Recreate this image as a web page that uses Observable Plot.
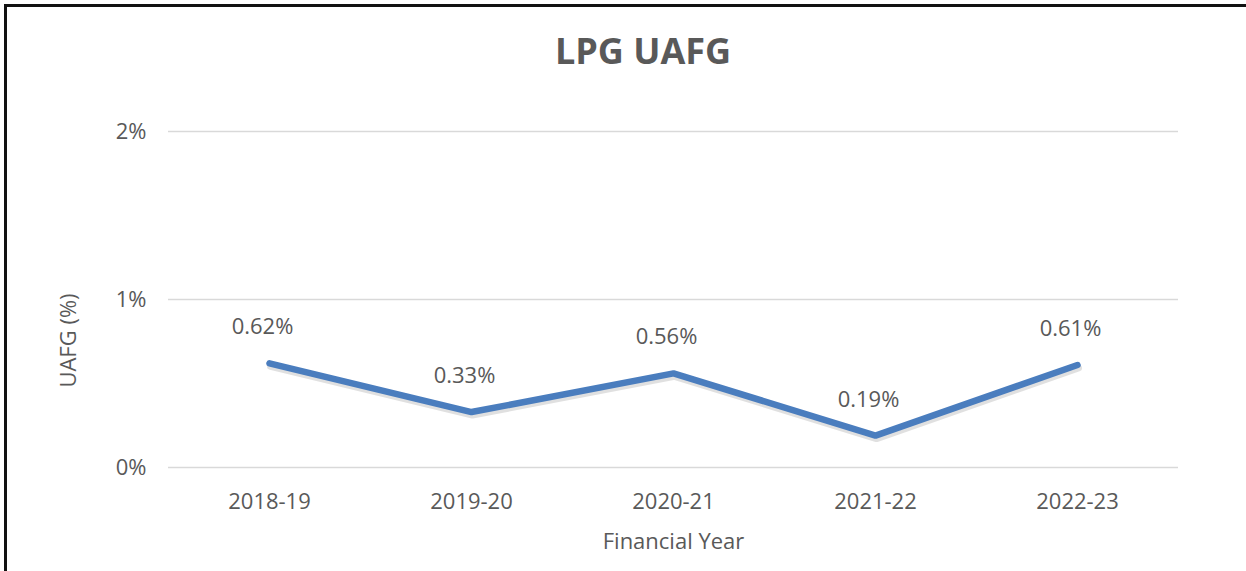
<!DOCTYPE html>
<html>
<head>
<meta charset="utf-8">
<script src="https://cdn.jsdelivr.net/npm/d3@7"></script>
<script src="https://cdn.jsdelivr.net/npm/@observablehq/plot@0.6"></script>
<style>
  html, body { margin: 0; padding: 0; background: #fff; }
  #wrap { position: relative; width: 1246px; height: 571px; overflow: hidden; background: #fff; font-family: 'Open Sans', sans-serif; }
  #frame { position: absolute; left: 4px; top: 4px; width: 1242px; height: 567px; box-sizing: border-box; border-top: 3px solid #111; border-left: 3px solid #111; }
  #title { position: absolute; left: 0; width: 1246px; top: 33px; text-align: center; font-size: 36px; line-height: 36px; font-weight: 700; color: #595959; margin-left: 20px; }
  #chart { position: absolute; left: 0; top: 95px; }
</style>
</head>
<body>
<div id="wrap">
  <div id="frame"></div>
  <div id="title">LPG UAFG</div>
  <div id="chart"></div>
</div>
<script>
const years = ["2018-19", "2019-20", "2020-21", "2021-22", "2022-23"];
const uafg = [0.62, 0.33, 0.56, 0.19, 0.61]; // percent
const yTicks = [0, 1, 2];
const xTitle = "Financial Year";
const yTitle = "UAFG (%)";

const data = years.map((y, i) => ({year: y, value: uafg[i]}));
const textColor = "#595959";
const lineColor = "#4a7dbe";

const chart = Plot.plot({
  width: 1246,
  height: 476,
  marginLeft: 168,
  marginRight: 68,
  marginTop: 36,
  marginBottom: 104,
  style: {fontFamily: "'Open Sans', sans-serif", fontSize: "22px", color: textColor, background: "transparent"},
  x: {type: "point", domain: years, padding: 0.5, label: null},
  y: {domain: [0, 2], label: null},
  marks: [
    Plot.gridY(yTicks, {stroke: "#d9d9d9", strokeOpacity: 1, strokeWidth: 1.5}),
    Plot.axisY(yTicks, {tickSize: 0, tickPadding: 22, tickFormat: d => d + "%", fontSize: 22, fill: textColor, label: null}),
    Plot.axisX({tickSize: 0, tickPadding: 26, fontSize: 22, fill: textColor, label: null}),
    Plot.line(data, {x: "year", y: "value", stroke: "#000", strokeOpacity: 0.12, strokeWidth: 7, dx: 1, dy: 3, strokeLinecap: "round", strokeLinejoin: "round"}),
    Plot.line(data, {x: "year", y: "value", stroke: lineColor, strokeWidth: 6.5, strokeLinecap: "round", strokeLinejoin: "miter"}),
    Plot.text(data, {x: "year", y: "value", text: d => d.value.toFixed(2) + "%", dx: -7, dy: -36, fill: textColor, fontSize: 22}),
    Plot.text([xTitle], {frameAnchor: "bottom", dy: 74, lineAnchor: "middle", textAnchor: "middle", fill: textColor, fontSize: 22}),
    Plot.text([yTitle], {frameAnchor: "left", dx: -100, dy: 41, rotate: -90, textAnchor: "middle", lineAnchor: "middle", fill: textColor, fontSize: 22})
  ]
});
document.getElementById("chart").appendChild(chart);
</script>
</body>
</html>
